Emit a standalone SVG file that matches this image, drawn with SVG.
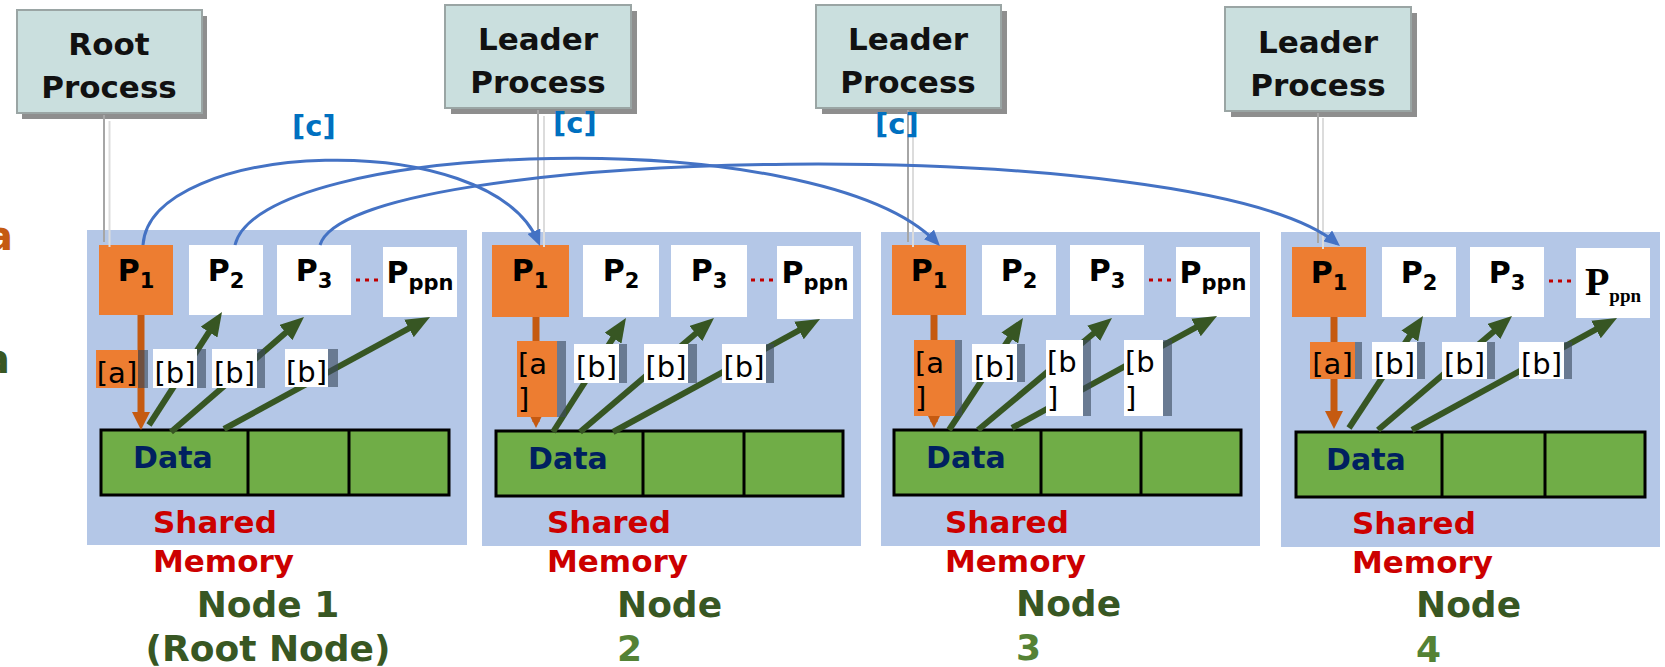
<svg xmlns="http://www.w3.org/2000/svg" width="1665" height="667" viewBox="0 0 1665 667">
  <style>
    .panel { fill: #B4C7E7; }
    .proc { fill: #CADFDE; stroke: #9AA5A4; stroke-width: 2; }
    .proc-shadow { fill: #8E8E8E; }
    .proc-text { font-family: "DejaVu Sans", sans-serif; font-weight: bold; font-size: 31px; fill: #111; text-anchor: middle; }
    .p-lead { fill: #ED7D31; }
    .p-box { fill: #FFFFFF; }
    .p-text { font-family: "DejaVu Sans", sans-serif; font-weight: bold; font-size: 30px; fill: #000; text-anchor: middle; }
    .sub { font-size: 21px; }
    .dots { stroke: #C00000; stroke-width: 3; stroke-dasharray: 4 5; }
    .data { fill: #70AD47; stroke: #000; stroke-width: 3; }
    .divider { stroke: #000; stroke-width: 3; }
    .data-text { font-family: "DejaVu Sans", sans-serif; font-weight: bold; font-size: 30px; fill: #002060; }
    .shm { font-family: "DejaVu Sans", sans-serif; font-weight: bold; font-size: 31px; fill: #CC0000; }
    .node-label { font-family: "DejaVu Sans", sans-serif; font-weight: bold; font-size: 36px; fill: #385723; }
    .node-num { fill: #548235; }
    .link-dark { stroke: #A6A6A6; stroke-width: 2; }
    .link-light { stroke: #DCDCDC; stroke-width: 2; }
    .bcast { fill: none; stroke: #4472C4; stroke-width: 3; }
    .copy { stroke: #375623; stroke-width: 6; }
    .load { stroke: #C55A11; stroke-width: 7; }
    .lbl-a { fill: #ED7D31; }
    .lbl-b { fill: #FFFFFF; }
    .lbl-shadow { fill: #3C4A5E; opacity: 0.62; }
    .lbl-text { font-family: "DejaVu Sans", sans-serif; font-size: 29px; fill: #000; }
    .c-text { font-family: "DejaVu Sans", sans-serif; font-weight: bold; font-size: 29px; fill: #0070C0; }
    .edge-a { font-family: "DejaVu Sans", sans-serif; font-weight: bold; font-size: 40px; text-anchor: end; }
  </style>
  <defs>
    <marker id="head-blue" viewBox="0 0 16 14" refX="12" refY="7" markerWidth="16" markerHeight="14" markerUnits="userSpaceOnUse" orient="auto">
      <path d="M0,0 L16,7 L0,14 z" fill="#4472C4"/>
    </marker>
    <marker id="head-green" viewBox="0 0 24 20" refX="12" refY="10" markerWidth="24" markerHeight="20" markerUnits="userSpaceOnUse" orient="auto">
      <path d="M0,0 L24,10 L0,20 z" fill="#375623"/>
    </marker>
    <marker id="head-orange" viewBox="0 0 18 18" refX="9" refY="9" markerWidth="18" markerHeight="18" markerUnits="userSpaceOnUse" orient="auto">
      <path d="M0,0 L18,9 L0,18 z" fill="#C55A11"/>
    </marker>
    <marker id="head-orange-sm" viewBox="0 0 12 12" refX="6" refY="6" markerWidth="12" markerHeight="12" markerUnits="userSpaceOnUse" orient="auto">
      <path d="M0,0 L12,6 L0,12 z" fill="#C55A11"/>
    </marker>
  </defs>

  <rect width="1665" height="667" fill="#FFFFFF"/>

  <!-- clipped labels at the left margin -->
  <text class="edge-a" x="13" y="250" fill="#C55A11">a</text>
  <text class="edge-a" x="10" y="373" fill="#385723">a</text>

  <!-- Node 1 (root node) -->
  <g id="node-1">
    <rect class="panel" x="87" y="230" width="380" height="315"/>
    <rect class="p-lead" x="99" y="245" width="74" height="70"/>
    <text class="p-text" x="136" y="281">P<tspan class="sub" dy="7">1</tspan></text>
    <rect class="p-box" x="189" y="245" width="74" height="70"/>
    <text class="p-text" x="226" y="281">P<tspan class="sub" dy="7">2</tspan></text>
    <rect class="p-box" x="277" y="245" width="74" height="70"/>
    <text class="p-text" x="314" y="281">P<tspan class="sub" dy="7">3</tspan></text>
    <line class="dots" x1="356" y1="280" x2="382" y2="280"/>
    <rect class="p-box" x="383" y="247" width="74" height="70"/>
    <text class="p-text" x="420" y="283">P<tspan class="sub" dy="7">ppn</tspan></text>
    <rect class="data" x="101" y="430" width="348" height="65"/>
    <line class="divider" x1="248" y1="430" x2="248" y2="495"/>
    <line class="divider" x1="349" y1="430" x2="349" y2="495"/>
    <text class="data-text" x="133" y="468">Data</text>
    <text class="shm" x="153" y="533">Shared</text>
    <text class="shm" x="153" y="572">Memory</text>
    <text class="node-label" x="268" y="617" text-anchor="middle">Node 1</text>
    <text class="node-label" x="268" y="661" text-anchor="middle">(Root Node)</text>
  </g>

  <!-- Node 2 -->
  <g id="node-2">
    <rect class="panel" x="482" y="232" width="379" height="314"/>
    <rect class="p-lead" x="492" y="245" width="77" height="72"/>
    <text class="p-text" x="530" y="281">P<tspan class="sub" dy="7">1</tspan></text>
    <rect class="p-box" x="583" y="245" width="76" height="72"/>
    <text class="p-text" x="621" y="281">P<tspan class="sub" dy="7">2</tspan></text>
    <rect class="p-box" x="671" y="245" width="76" height="72"/>
    <text class="p-text" x="709" y="281">P<tspan class="sub" dy="7">3</tspan></text>
    <line class="dots" x1="751" y1="280" x2="776" y2="280"/>
    <rect class="p-box" x="777" y="246" width="76" height="73"/>
    <text class="p-text" x="815" y="283">P<tspan class="sub" dy="7">ppn</tspan></text>
    <rect class="data" x="496" y="431" width="347" height="65"/>
    <line class="divider" x1="643" y1="431" x2="643" y2="496"/>
    <line class="divider" x1="744" y1="431" x2="744" y2="496"/>
    <text class="data-text" x="528" y="469">Data</text>
    <text class="shm" x="547" y="533">Shared</text>
    <text class="shm" x="547" y="572">Memory</text>
    <text class="node-label" x="617" y="617">Node</text>
    <text class="node-label node-num" x="617" y="661">2</text>
  </g>

  <!-- Node 3 -->
  <g id="node-3">
    <rect class="panel" x="881" y="232" width="379" height="314"/>
    <rect class="p-lead" x="892" y="245" width="74" height="70"/>
    <text class="p-text" x="929" y="281">P<tspan class="sub" dy="7">1</tspan></text>
    <rect class="p-box" x="982" y="245" width="74" height="70"/>
    <text class="p-text" x="1019" y="281">P<tspan class="sub" dy="7">2</tspan></text>
    <rect class="p-box" x="1070" y="245" width="74" height="70"/>
    <text class="p-text" x="1107" y="281">P<tspan class="sub" dy="7">3</tspan></text>
    <line class="dots" x1="1149" y1="280" x2="1174" y2="280"/>
    <rect class="p-box" x="1176" y="247" width="74" height="70"/>
    <text class="p-text" x="1213" y="283">P<tspan class="sub" dy="7">ppn</tspan></text>
    <rect class="data" x="894" y="430" width="347" height="65"/>
    <line class="divider" x1="1041" y1="430" x2="1041" y2="495"/>
    <line class="divider" x1="1141" y1="430" x2="1141" y2="495"/>
    <text class="data-text" x="926" y="468">Data</text>
    <text class="shm" x="945" y="533">Shared</text>
    <text class="shm" x="945" y="572">Memory</text>
    <text class="node-label" x="1016" y="616">Node</text>
    <text class="node-label node-num" x="1016" y="660">3</text>
  </g>

  <!-- Node 4 -->
  <g id="node-4">
    <rect class="panel" x="1281" y="232" width="379" height="315"/>
    <rect class="p-lead" x="1292" y="247" width="74" height="70"/>
    <text class="p-text" x="1329" y="283">P<tspan class="sub" dy="7">1</tspan></text>
    <rect class="p-box" x="1382" y="247" width="74" height="70"/>
    <text class="p-text" x="1419" y="283">P<tspan class="sub" dy="7">2</tspan></text>
    <rect class="p-box" x="1470" y="247" width="74" height="70"/>
    <text class="p-text" x="1507" y="283">P<tspan class="sub" dy="7">3</tspan></text>
    <line class="dots" x1="1549" y1="281" x2="1574" y2="281"/>
    <rect class="p-box" x="1576" y="248" width="74" height="70"/>
    <text x="1613" y="295" text-anchor="middle" font-family="'Liberation Serif', serif" font-weight="bold" font-size="40" fill="#000">P<tspan font-size="19" dy="7">ppn</tspan></text>
    <rect class="data" x="1296" y="432" width="349" height="65"/>
    <line class="divider" x1="1442" y1="432" x2="1442" y2="497"/>
    <line class="divider" x1="1545" y1="432" x2="1545" y2="497"/>
    <text class="data-text" x="1326" y="470">Data</text>
    <text class="shm" x="1352" y="534">Shared</text>
    <text class="shm" x="1352" y="573">Memory</text>
    <text class="node-label" x="1416" y="617">Node</text>
    <text class="node-label node-num" x="1416" y="662">4</text>
  </g>

  <!-- Process boxes -->
  <g id="root-process">
    <rect class="proc-shadow" x="22" y="16" width="185" height="103"/>
    <rect class="proc" x="17" y="10" width="185" height="103"/>
    <text class="proc-text" x="109" y="55">Root</text>
    <text class="proc-text" x="109" y="98">Process</text>
  </g>
  <g id="leader-process-2">
    <rect class="proc-shadow" x="451" y="11" width="186" height="103"/>
    <rect class="proc" x="445" y="5" width="186" height="103"/>
    <text class="proc-text" x="538" y="50">Leader</text>
    <text class="proc-text" x="538" y="93">Process</text>
  </g>
  <g id="leader-process-3">
    <rect class="proc-shadow" x="822" y="11" width="185" height="103"/>
    <rect class="proc" x="816" y="5" width="185" height="103"/>
    <text class="proc-text" x="908" y="50">Leader</text>
    <text class="proc-text" x="908" y="93">Process</text>
  </g>
  <g id="leader-process-4">
    <rect class="proc-shadow" x="1231" y="13" width="186" height="104"/>
    <rect class="proc" x="1225" y="7" width="186" height="104"/>
    <text class="proc-text" x="1318" y="53">Leader</text>
    <text class="proc-text" x="1318" y="96">Process</text>
  </g>

  <g id="connectors">
    <!-- process box to lead rank links -->
    <line class="link-light" x1="109.5" y1="121" x2="109.5" y2="247"/>
    <line class="link-dark" x1="104" y1="115" x2="104" y2="242"/>
    <line class="link-light" x1="544" y1="116" x2="544" y2="247"/>
    <line class="link-dark" x1="538" y1="110" x2="538" y2="242"/>
    <line class="link-light" x1="913" y1="116" x2="913" y2="247"/>
    <line class="link-dark" x1="908" y1="110" x2="908" y2="242"/>
    <line class="link-light" x1="1323" y1="118" x2="1323" y2="249"/>
    <line class="link-dark" x1="1318" y1="113" x2="1318" y2="243"/>

    <!-- inter-node transfers [c] -->
    <path class="bcast" d="M143,245 C150,140 490,125 538.5,242.3" marker-end="url(#head-blue)"/>
    <path class="bcast" d="M235,245 C260,140 820,120 937.2,243.1" marker-end="url(#head-blue)"/>
    <path class="bcast" d="M320,245 C350,145 1200,130 1336.9,243.5" marker-end="url(#head-blue)"/>
    <text class="c-text" x="292" y="136">[c]</text>
    <text class="c-text" x="553" y="133">[c]</text>
    <text class="c-text" x="875" y="134">[c]</text>

    <!-- shared memory to local ranks [b] -->
    <line class="copy" x1="149" y1="425" x2="215.5" y2="322" marker-end="url(#head-green)"/>
    <line class="copy" x1="171" y1="432" x2="294.9" y2="324.8" marker-end="url(#head-green)"/>
    <line class="copy" x1="224" y1="429" x2="419.5" y2="322.7" marker-end="url(#head-green)"/>
    <line class="copy" x1="553" y1="432" x2="619.5" y2="328.1" marker-end="url(#head-green)"/>
    <line class="copy" x1="580" y1="432" x2="704.9" y2="325.8" marker-end="url(#head-green)"/>
    <line class="copy" x1="613" y1="432" x2="809.5" y2="324.7" marker-end="url(#head-green)"/>
    <line class="copy" x1="949" y1="430" x2="1016.4" y2="328" marker-end="url(#head-green)"/>
    <line class="copy" x1="978" y1="430" x2="1102.8" y2="325.7" marker-end="url(#head-green)"/>
    <line class="copy" x1="1012" y1="428" x2="1206.5" y2="321.7" marker-end="url(#head-green)"/>
    <line class="copy" x1="1349" y1="428" x2="1416.4" y2="326" marker-end="url(#head-green)"/>
    <line class="copy" x1="1378" y1="430" x2="1502.9" y2="323.8" marker-end="url(#head-green)"/>
    <line class="copy" x1="1412" y1="430" x2="1606.5" y2="323.7" marker-end="url(#head-green)"/>

    <!-- lead rank to shared memory [a] -->
    <line class="load" x1="141" y1="315" x2="141" y2="421" marker-end="url(#head-orange)"/>
    <line class="load" x1="536" y1="317" x2="536" y2="422" marker-end="url(#head-orange-sm)"/>
    <line class="load" x1="934" y1="315" x2="934" y2="422" marker-end="url(#head-orange-sm)"/>
    <line class="load" x1="1334" y1="317" x2="1334" y2="420" marker-end="url(#head-orange)"/>

    <!-- Node 1 labels -->
    <rect class="lbl-a" x="96" y="350" width="42" height="38"/>
    <rect class="lbl-shadow" x="138" y="350" width="10" height="38"/>
    <text class="lbl-text" x="117" y="383" text-anchor="middle">[a]</text>
    <rect class="lbl-b" x="153" y="349" width="44" height="39"/>
    <rect class="lbl-shadow" x="197" y="349" width="9" height="39"/>
    <text class="lbl-text" x="175" y="383" text-anchor="middle">[b]</text>
    <rect class="lbl-b" x="212" y="349" width="45" height="39"/>
    <rect class="lbl-shadow" x="257" y="349" width="8" height="39"/>
    <text class="lbl-text" x="234.5" y="383" text-anchor="middle">[b]</text>
    <rect class="lbl-b" x="285" y="349" width="43" height="38"/>
    <rect class="lbl-shadow" x="328" y="349" width="10" height="38"/>
    <text class="lbl-text" x="306.5" y="382" text-anchor="middle">[b]</text>

    <!-- Node 2 labels -->
    <rect class="lbl-a" x="517" y="341" width="40" height="76"/>
    <rect class="lbl-shadow" x="557" y="341" width="9" height="76"/>
    <text class="lbl-text" x="518" y="374">[a</text>
    <text class="lbl-text" x="518" y="409">]</text>
    <rect class="lbl-b" x="574" y="344" width="45" height="39"/>
    <rect class="lbl-shadow" x="619" y="344" width="8" height="39"/>
    <text class="lbl-text" x="596.5" y="377" text-anchor="middle">[b]</text>
    <rect class="lbl-b" x="644" y="344" width="44" height="39"/>
    <rect class="lbl-shadow" x="688" y="344" width="9" height="39"/>
    <text class="lbl-text" x="666" y="377" text-anchor="middle">[b]</text>
    <rect class="lbl-b" x="722" y="344" width="44" height="39"/>
    <rect class="lbl-shadow" x="766" y="344" width="8" height="39"/>
    <text class="lbl-text" x="744" y="377" text-anchor="middle">[b]</text>

    <!-- Node 3 labels -->
    <rect class="lbl-a" x="914" y="340" width="41" height="76"/>
    <rect class="lbl-shadow" x="955" y="340" width="7" height="76"/>
    <text class="lbl-text" x="915" y="373">[a</text>
    <text class="lbl-text" x="915" y="408">]</text>
    <rect class="lbl-b" x="972" y="344" width="45" height="38"/>
    <rect class="lbl-shadow" x="1017" y="344" width="8" height="38"/>
    <text class="lbl-text" x="994.5" y="377" text-anchor="middle">[b]</text>
    <rect class="lbl-b" x="1046" y="340" width="37" height="76"/>
    <rect class="lbl-shadow" x="1083" y="340" width="8" height="76"/>
    <text class="lbl-text" x="1047" y="372">[b</text>
    <text class="lbl-text" x="1047" y="408">]</text>
    <rect class="lbl-b" x="1124" y="340" width="39" height="76"/>
    <rect class="lbl-shadow" x="1163" y="340" width="9" height="76"/>
    <text class="lbl-text" x="1125" y="372">[b</text>
    <text class="lbl-text" x="1125" y="408">]</text>

    <!-- Node 4 labels -->
    <rect class="lbl-a" x="1310" y="342" width="45" height="37"/>
    <rect class="lbl-shadow" x="1355" y="342" width="7" height="37"/>
    <text class="lbl-text" x="1332.5" y="374" text-anchor="middle">[a]</text>
    <rect class="lbl-b" x="1372" y="342" width="45" height="37"/>
    <rect class="lbl-shadow" x="1417" y="342" width="8" height="37"/>
    <text class="lbl-text" x="1394.5" y="374" text-anchor="middle">[b]</text>
    <rect class="lbl-b" x="1442" y="342" width="45" height="37"/>
    <rect class="lbl-shadow" x="1487" y="342" width="8" height="37"/>
    <text class="lbl-text" x="1464.5" y="374" text-anchor="middle">[b]</text>
    <rect class="lbl-b" x="1519" y="342" width="45" height="37"/>
    <rect class="lbl-shadow" x="1564" y="342" width="8" height="37"/>
    <text class="lbl-text" x="1541.5" y="374" text-anchor="middle">[b]</text>
  </g>
</svg>
